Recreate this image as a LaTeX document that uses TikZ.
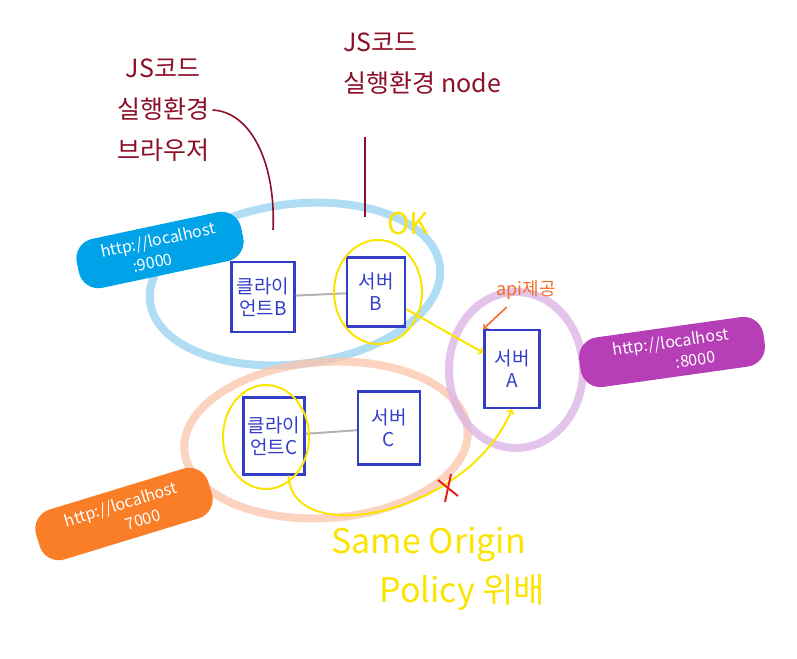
\documentclass[tikz,border=0pt]{standalone}
\usepackage{fontspec}
\setmainfont{Noto Sans CJK KR}
\usetikzlibrary{shapes,arrows,calc,positioning}
\definecolor{penblue}{RGB}{50,62,200}
\definecolor{skyring}{RGB}{150,210,240}
\definecolor{peachring}{RGB}{250,196,168}
\definecolor{lilacring}{RGB}{218,178,228}
\definecolor{penyellow}{RGB}{250,228,0}
\definecolor{penwine}{RGB}{140,15,40}
\definecolor{urlblue}{RGB}{0,162,232}
\definecolor{urlpurple}{RGB}{182,62,182}
\definecolor{urlorange}{RGB}{250,126,40}
\definecolor{penorange}{RGB}{245,110,40}
\definecolor{penred}{RGB}{230,30,30}
\begin{document}
\begin{tikzpicture}[x=1pt,y=-1pt]
      \tikzset{pen box/.style={draw=penblue,
          line width=2.2pt,
          text=penblue,
          align=center,
          inner sep=1pt,
          font=\fontsize{19}{22}\selectfont},
        url blob/.style={fill=#1,
          rounded corners=20pt,
          text=white,
          align=right,
          inner sep=3pt,
          font=\fontsize{16}{21}\selectfont},
        ring/.style={draw=#1,
          line width=8pt,
          opacity=0.75},
        note/.style={text=penwine,
          align=left,
          font=\fontsize{25}{41}\selectfont}
      }
      \useasboundingbox (0,0) rectangle (797,658);
      % big rings
      \draw [ring=skyring,rotate around={7:(295,284)}] (295,284) ellipse [x radius=146, y radius=80];
      \draw [ring=peachring,rotate around={4:(326,440)}] (326,440) ellipse [x radius=142, y radius=78];
      \draw [ring=lilacring] (516,370) ellipse [x radius=67, y radius=78];

      % address blobs
      \node [url blob=urlblue,rotate=12,minimum width=168pt,minimum height=50pt] (url9000) at (160,250) {http://localhost\\:9000\hspace*{3em}};
      \node [url blob=urlpurple,rotate=8,minimum width=186pt,minimum height=50pt] (url8000) at (672,352) {http://localhost\\:8000\hspace*{1em}};
      \node [url blob=urlorange,rotate=17,minimum width=180pt,minimum height=52pt] (url7000) at (124,514) {http://localhost\\7000\hspace*{1.5em}};

      % boxes
      \node [pen box,minimum width=63pt,minimum height=70pt] (cliB) at (263,297) {클라이\\언트B};
      \node [pen box,minimum width=58pt,minimum height=69pt] (srvB) at (376,292) {서버\\B};
      \node [pen box,minimum width=55pt,minimum height=78pt] (srvA) at (512,369) {서버\\A};
      \node [pen box,minimum width=61pt,minimum height=77pt] (cliC) at (274,436) {클라이\\언트C};
      \node [pen box,minimum width=62pt,minimum height=73pt] (srvC) at (389,428) {서버\\C};
      \draw [gray!60,line width=2pt] (cliB)--(srvB);
      \draw [gray!60,line width=2pt] (cliC)--(srvC);

      % yellow marks
      \draw [penyellow,line width=2pt] (378,292) ellipse [x radius=44, y radius=52];
      \draw [penyellow,line width=2pt] (266,437) ellipse [x radius=43, y radius=52];
      \node [text=penyellow,font=\fontsize{30}{30}\selectfont] (ok) at (408,224) {OK};
      \draw [penyellow,line width=2pt,->] (srvB)--(srvA);
      \draw [penyellow,line width=2pt,->] (cliC.290) .. controls (292,550) and (468,515) .. (srvA.south);
      \coordinate (cross) at (448,488);
      \draw [penred,line width=2pt] ($(cross)+(-10,-8)$)--($(cross)+(10,8)$);
      \draw [penred,line width=2pt] ($(cross)+(3,-14)$)--($(cross)+(-3,14)$);
      \node [text=penyellow,anchor=west,font=\fontsize{34}{34}\selectfont] (sop) at (328,545) {Same Origin};
      \node [text=penyellow,anchor=west,font=\fontsize{34}{34}\selectfont] (viol) at (376,592) {Policy 위배};

      % api label
      \node [text=penorange,font=\fontsize{18}{18}\selectfont] (api) at (526,290) {api제공};
      \draw [penorange,line width=1.6pt,->] ($(api.south west)+(14,4)$)--(srvA.north west);

      % runtime notes
      \node [note,align=center] (jsBrowser) at (163,110) {JS코드\\실행환경\\브라우저};
      \coordinate (browserTail) at (273,230);
      \draw [penwine,line width=1.6pt] (jsBrowser.east) .. controls (252,112) and (276,165) .. (browserTail);
      \node [note,anchor=west] (jsNode) at (340,64) {JS코드\\실행환경 node};
      \coordinate (nodeTop) at (365,137);
      \coordinate (nodeTail) at (365,217);
      \draw [penwine,line width=1.6pt] (nodeTop)--(nodeTail);
    \end{tikzpicture}
\end{document}
